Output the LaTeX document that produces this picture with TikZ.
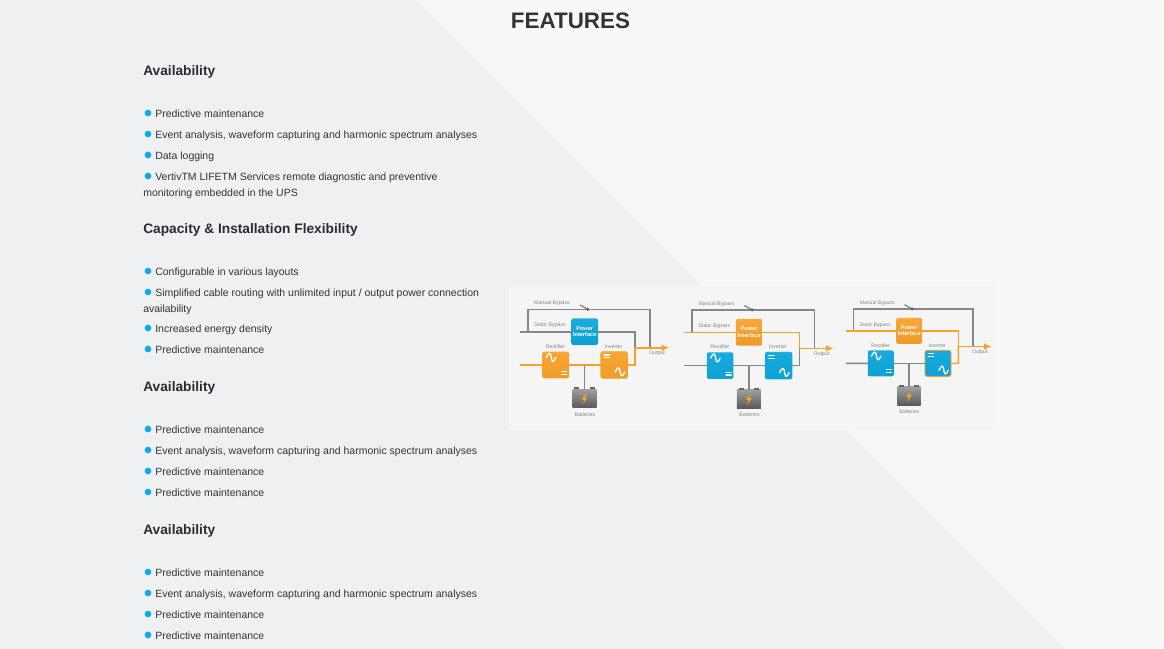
\documentclass[tikz,border=0pt]{standalone}
\usepackage{fontspec}
\setmainfont{Liberation Sans}
\usetikzlibrary{arrows.meta,calc}
\definecolor{bgl}{HTML}{F7F9F9}
\definecolor{bgd}{HTML}{EFF0F2}
\definecolor{panelbg}{HTML}{F5F5F5}
\definecolor{txt}{HTML}{333333}
\definecolor{head}{HTML}{2B2B33}
\definecolor{bul}{HTML}{0DA9EF}
\definecolor{ublue}{HTML}{0EA7DC}
\definecolor{uorange}{HTML}{F9A22B}
\definecolor{wire}{HTML}{858688}
\definecolor{lbl}{HTML}{858585}
\tikzset{
  x=.75pt,y=-.75pt,
  body/.style={anchor=base west,inner sep=0,text=txt,font=\fontsize{7.87}{10}\selectfont},
  heading/.style={anchor=base west,inner sep=0,text=head,font=\fontsize{10.3}{12}\selectfont\bfseries},
  title/.style={anchor=base,inner sep=0,text=txt,font=\fontsize{16.8}{20}\selectfont\bfseries},
  dotb/.style={circle,fill=bul,inner sep=0,minimum size=5pt},
  unit/.style={rounded corners=1.6pt,transform shape,minimum width=20pt,minimum height=20pt,inner sep=0},
  wirel/.style={line width=1.2pt},
  small/.style={inner sep=0,text=lbl,transform shape,font=\fontsize{3.9}{4.5}\selectfont},
  sym/.style={white,line width=1pt,line cap=round},
}
\newcommand{\bu}[3]{%
  \node[dotb] (d#1) at (148,#2) {};
  \node[body] (t#1) at (155,#2+4.5) {#3};
}
% 1 name, 2 scope options, 3 PI colour, 4 rectifier, 5 inverter, 6 static, 7 input, 8 lower, 9 inverter border
\newcommand{\upspanel}[9]{%
\begin{scope}[#2]
  \coordinate (#1in)  at (15,80);
  \coordinate (#1sin) at (15,46.7);
  \coordinate (#1ml)  at (22.7,46.7);
  \coordinate (#1mt)  at (22.7,24.3);
  \coordinate (#1mr)  at (145,24.3);
  \coordinate (#1mo)  at (145,62.7);
  \coordinate (#1st)  at (130,46.7);
  \coordinate (#1so)  at (130,62.7);
  \coordinate (#1lo)  at (130,80);
  \coordinate (#1end) at (164,62.7);
  \coordinate (#1sa)  at (75,20);
  \coordinate (#1sb)  at (82.7,24.3);
  \coordinate (#1bt)  at (79.5,80);
  \node[transform shape,inner sep=0,minimum width=18pt,minimum height=14pt,
        top color=black!38,bottom color=black!65] (#1ba) at (79.5,113.5) {};
  \draw[wire,wirel] (#1ml) -- (#1mt) -- (#1mr) -- (#1mo);
  \draw[wire,line width=1pt] (#1sa) -- (#1sb);
  \fill[wire!70!black] (#1sb) circle (1.7);
  \draw[#7,wirel] (#1in) -- (50,80);
  \draw[#7,wirel] (50,80) -- (109,80);
  \draw[wire,wirel] (#1bt) -- (#1ba);
  \draw[#6,wirel] (#1sin) -- (#1st) -- (#1so);
  \draw[#8,wirel] (109,80) -- (#1lo) -- (#1so);
  \draw[uorange,wirel,-{Latex[length=5.5pt,width=5pt]}] (#1so) -- (#1end);
  \node[unit,top color=#3!94!white,bottom color=#3!95!black] (#1pi) at (79.7,46.7) {};
  \node[unit,top color=#4!96!white,bottom color=#4!96!black] (#1re) at (50.7,80) {};
  \node[unit,top color=#5!96!white,bottom color=#5!96!black,draw=#9,line width=.6pt] (#1iv) at (109.2,80) {};
  % battery
  \fill[black!60] ($(#1ba.north west)+(2,-2)$) rectangle ($(#1ba.north west)+(7,0)$);
  \fill[black!60] ($(#1ba.north east)+(-7,-2)$) rectangle ($(#1ba.north east)+(-2,0)$);
  \fill[uorange] ($(#1ba.center)+(2,-6)$) -- ($(#1ba.center)+(-3,1)$) -- ($(#1ba.center)+(0,1)$) -- ($(#1ba.center)+(-2,6)$) -- ($(#1ba.center)+(3,-1)$) -- ($(#1ba.center)+(0,-1)$) -- cycle;
  % symbols
  \begin{scope}[shift={(#1re.center)}]
    \draw[sym] (-9.5,-7.5) .. controls (-7,-13) and (-5,-13) .. (-4.5,-7.5) .. controls (-4,-2.5) and (-2,-2.5) .. (0,-7.5);
    \draw[sym] (6,6.6) -- (11,6.6) (6,9.4) -- (11,9.4);
  \end{scope}
  \begin{scope}[shift={(#1iv.center)}]
    \draw[sym] (-10,-10) -- (-4.5,-10) (-10,-7.2) -- (-4.5,-7.2);
    \draw[sym] (1,7) .. controls (3.5,1.5) and (5.5,1.5) .. (6,7) .. controls (6.5,12) and (8.5,12) .. (10.5,7);
  \end{scope}
  \node[inner sep=0,text=white,transform shape,align=center,font=\fontsize{4.2}{5}\selectfont\bfseries] (#1pt) at (#1pi) {Power\\Interface};
  \node[small] (#1l1) at (47,18.5) {Manual Bypass};
  \node[small] (#1l2) at (45,40.5) {Static Bypass};
  \node[small] (#1l3) at (50.5,61.5) {Rectifier};
  \node[small] (#1l4) at (108.5,61.5) {Inverter};
  \node[small] (#1l5) at (152,68.7) {Output};
  \node[small] (#1l6) at (80,129.5) {Batteries};
\end{scope}}
\begin{document}
\begin{tikzpicture}
\useasboundingbox (0,0) rectangle (1164,649);
\fill[bgl] (0,0) rectangle (1164,649);
\fill[bgd] (0,0) -- (417,0) -- (1066,649) -- (0,649) -- cycle;
\node[title] (ttl) at (570.5,29) {FEATURES};

\node[heading] (h1) at (143,75.7) {Availability};
\bu{a}{113}{Predictive maintenance}
\bu{b}{134}{Event analysis, waveform capturing and harmonic spectrum analyses}
\bu{c}{155}{Data logging}
\bu{e}{176}{VertivTM LIFETM Services remote diagnostic and preventive}
\node[body] (e2) at (143,196.5) {monitoring embedded in the UPS};

\node[heading] (h2) at (143,233.7) {Capacity \& Installation Flexibility};
\bu{f}{271}{Configurable in various layouts}
\bu{g}{292}{Simplified cable routing with unlimited input / output power connection}
\node[body] (g2) at (143,312.5) {availability};
\bu{h}{328}{Increased energy density}
\bu{i}{349}{Predictive maintenance}

\node[heading] (h3) at (143,391.5) {Availability};
\bu{j}{429}{Predictive maintenance}
\bu{k}{450}{Event analysis, waveform capturing and harmonic spectrum analyses}
\bu{l}{471}{Predictive maintenance}
\bu{m}{492}{Predictive maintenance}

\node[heading] (h4) at (143,534.5) {Availability};
\bu{n}{572}{Predictive maintenance}
\bu{o}{593}{Event analysis, waveform capturing and harmonic spectrum analyses}
\bu{p}{614}{Predictive maintenance}
\bu{q}{635}{Predictive maintenance}

\fill[panelbg] (509,286) rectangle (997,430);
\upspanel{A}{shift={(505,285)}}{ublue}{uorange}{uorange}{wire}{uorange}{uorange}{uorange}
\upspanel{B}{shift={(669.4,285.6)}}{uorange}{ublue}{ublue}{uorange}{wire}{wire}{ublue}
\upspanel{C}{shift={(831.3,285.2)},scale=.977}{uorange}{ublue}{ublue}{uorange}{wire}{uorange}{uorange}
\end{tikzpicture}
\end{document}
